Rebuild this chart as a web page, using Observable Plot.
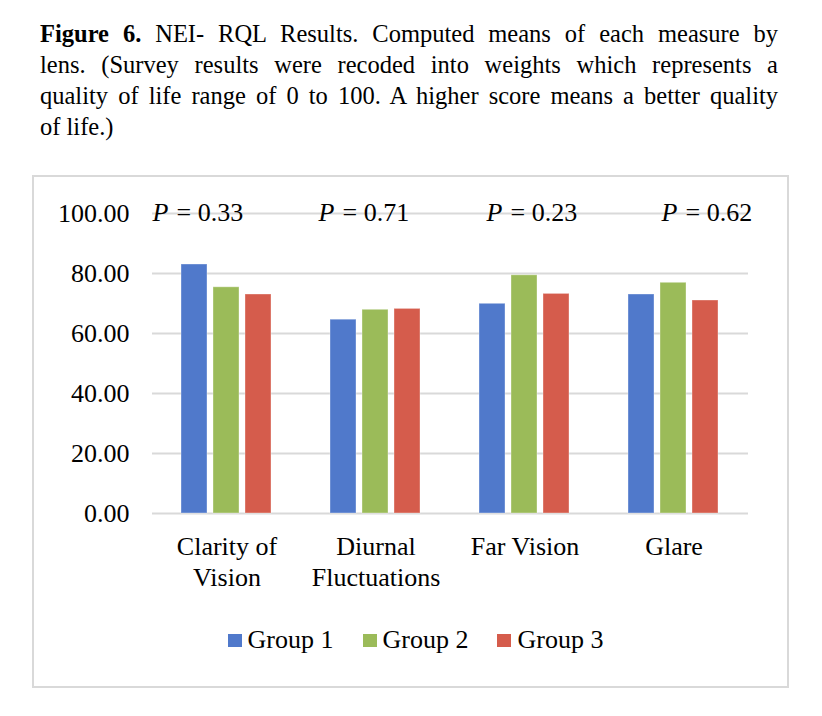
<!DOCTYPE html>
<html>
<head>
<meta charset="utf-8">
<script src="https://cdn.jsdelivr.net/npm/d3@7"></script>
<script src="https://cdn.jsdelivr.net/npm/@observablehq/plot@0.6"></script>
<style>
  body { margin: 0; background: #fff; font-family: "Liberation Serif", serif; color: #000; }
  #title { position: absolute; left: 40px; top: 18px; width: 738px; font-size: 24.5px; line-height: 31px; }
  #title .j { text-align: justify; text-align-last: justify; white-space: nowrap; }
  #box { position: absolute; left: 32px; top: 175px; width: 757px; height: 513px; box-sizing: border-box; border: 2px solid #d9d9d9; }
  #chart { position: absolute; left: 0; top: 0; }
  #legend { position: absolute; left: 0; width: 753px; top: 448px; line-height: 30px; display: flex; justify-content: center; gap: 29px; font-size: 26px; padding-left: 10px; box-sizing: border-box; }
  #legend .item { display: flex; align-items: center; }
  #legend .sw { width: 14px; height: 13px; margin-right: 6px; }
</style>
</head>
<body>
<div id="title">
  <div class="j"><b>Figure 6.</b> NEI- RQL Results. Computed means of each measure by</div>
  <div class="j">lens. (Survey results were recoded into weights which represents a</div>
  <div class="j">quality of life range of 0 to 100. A higher score means a better quality</div>
  <div>of life.)</div>
</div>
<div id="box">
  <div id="chart"></div>
  <div id="legend"></div>
</div>
<script>
const measures = ["Clarity of Vision", "Diurnal Fluctuations", "Far Vision", "Glare"];
const measureLabels = ["Clarity of\nVision", "Diurnal\nFluctuations", "Far Vision", "Glare"];
const groups = ["Group 1", "Group 2", "Group 3"];
const group1 = [83.0, 64.6, 69.9, 73.0];
const group2 = [75.4, 67.9, 79.4, 76.9];
const group3 = [73.0, 68.2, 73.2, 71.0];
const pValues = ["0.33", "0.71", "0.23", "0.62"];
const yTicks = [0, 20, 40, 60, 80, 100];
const colors = ["#5079CB", "#9BBB59", "#D55C4C"];

const series = [group1, group2, group3];
const data = [];
measures.forEach((m, i) => groups.forEach((g, j) => data.push({measure: m, group: g, value: series[j][i]})));
const pData = measures.map((m, i) => ({measure: m, p: pValues[i]}));
// label horizontal offsets from facet centre (style only)
const pShift = [-74, -57, -38, -12];
const labelMap = new Map(measures.map((m, i) => [m, measureLabels[i]]));

const font = "Liberation Serif, serif";
const chart = Plot.plot({
  width: 753,
  height: 430,
  marginLeft: 117,
  marginRight: 38,
  marginTop: 36,
  marginBottom: 94,
  style: {fontFamily: font, fontSize: "26px", color: "#000", background: "transparent"},
  fx: {domain: measures, padding: 0, axis: null, label: null},
  x: {domain: groups, paddingInner: 0.18, paddingOuter: 0.86, axis: null},
  y: {domain: [0, 100], axis: null},
  color: {domain: groups, range: colors},
  marks: [
    Plot.ruleY(yTicks, {y: d => d, stroke: "#d9d9d9", strokeWidth: 2}),
    Plot.barY(data, {fx: "measure", x: "group", y: "value", fill: "group", stroke: "white", strokeOpacity: 0.35, strokeWidth: 1}),
    Plot.text(yTicks, {y: d => d, text: d => d.toFixed(2), fx: () => measures[0], frameAnchor: "left", textAnchor: "end", dx: -23, fontSize: 26}),
    Plot.text(measures, {fx: d => d, text: d => labelMap.get(d), frameAnchor: "bottom", lineAnchor: "top", dy: 19, lineHeight: 1.2, fontSize: 26})
  ]
});
document.getElementById("chart").appendChild(chart);

// P-value annotations positioned through the chart's own scales
const fxScale = chart.scale("fx");
const yScale = chart.scale("y");
const svg = d3.select(chart);
const g = svg.append("g").attr("font-family", font).attr("font-size", 26).attr("text-anchor", "start");
pData.forEach((d, i) => {
  const cx = fxScale.apply(d.measure) + fxScale.bandwidth / 2 + pShift[i];
  const y = yScale.apply(100);
  g.append("text").attr("x", cx).attr("y", y).attr("dy", "0.32em").attr("font-style", "italic").text("P");
  g.append("text").attr("x", cx + 24).attr("y", y).attr("dy", "0.32em").text("= " + d.p);
});

const legend = document.getElementById("legend");
groups.forEach((gname, i) => {
  const it = document.createElement("div");
  it.className = "item";
  it.innerHTML = `<span class="sw" style="background:${colors[i]}"></span><span>${gname}</span>`;
  legend.appendChild(it);
});
</script>
</body>
</html>
